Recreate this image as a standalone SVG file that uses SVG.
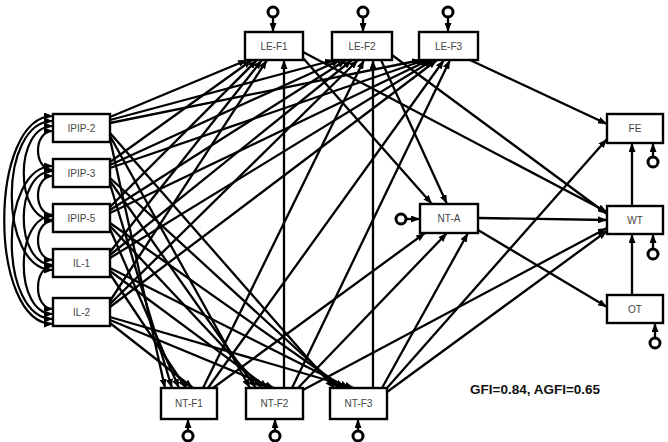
<svg xmlns="http://www.w3.org/2000/svg" width="668" height="442" viewBox="0 0 668 442">
<style>
.box{fill:#fff;stroke:#000;stroke-width:2.4}
.lbl{font-family:"Liberation Sans",Arial,sans-serif;font-size:10px;fill:#444;text-anchor:middle}
.e{stroke:#000;stroke-width:2.3;fill:none;marker-end:url(#ah)}
.cov{stroke:#000;stroke-width:2.2;fill:none;marker-start:url(#ah);marker-end:url(#ah)}
.err{fill:#fff;stroke:#000;stroke-width:3}
.fit{font-family:"Liberation Sans",Arial,sans-serif;font-size:13.5px;font-weight:bold;fill:#111}
</style>
<defs>
<marker id="ah" markerUnits="userSpaceOnUse" markerWidth="9" markerHeight="7" refX="9" refY="3.5" orient="auto-start-reverse">
<path d="M0,0 L9,3.5 L0,7 z" fill="#000"/>
</marker>
</defs>
<rect width="668" height="442" fill="#fff"/>
<g id="connectors">
<path class="cov" d="M53,131 C33,131 33,170 53,170"/>
<path class="cov" d="M53,176 C33,176 33,215 53,215"/>
<path class="cov" d="M53,221 C33,221 33,260 53,260"/>
<path class="cov" d="M53,266 C33,266 33,309 53,309"/>
<path class="cov" d="M53,126 C14,126 14,220 53,220"/>
<path class="cov" d="M53,171 C14,171 14,265 53,265"/>
<path class="cov" d="M53,216 C14,216 14,314 53,314"/>
<path class="cov" d="M53,121 C-2,121 -2,270 53,270"/>
<path class="cov" d="M53,166 C-2,166 -2,319 53,319"/>
<path class="cov" d="M53,116 C-12,116 -12,324 53,324"/>
<path class="e" d="M110,117 L247,60"/>
<path class="e" d="M110,120 L334,60"/>
<path class="e" d="M110,123 L421,60"/>
<path class="e" d="M110,133 L334,388"/>
<path class="e" d="M110,136 L250,388"/>
<path class="e" d="M110,139 L165,388"/>
<path class="e" d="M110,162 L252,60"/>
<path class="e" d="M110,165 L340,60"/>
<path class="e" d="M110,168 L425,60"/>
<path class="e" d="M110,178 L339,388"/>
<path class="e" d="M110,181 L256,388"/>
<path class="e" d="M110,184 L172,388"/>
<path class="e" d="M110,207 L257,60"/>
<path class="e" d="M110,210 L346,60"/>
<path class="e" d="M110,213 L429,60"/>
<path class="e" d="M110,223 L344,388"/>
<path class="e" d="M110,226 L262,388"/>
<path class="e" d="M110,229 L179,388"/>
<path class="e" d="M110,252 L262,60"/>
<path class="e" d="M110,255 L352,60"/>
<path class="e" d="M110,258 L433,60"/>
<path class="e" d="M110,268 L349,388"/>
<path class="e" d="M110,271 L268,388"/>
<path class="e" d="M110,274 L186,388"/>
<path class="e" d="M110,301 L267,60"/>
<path class="e" d="M110,304 L358,60"/>
<path class="e" d="M110,307 L437,60"/>
<path class="e" d="M110,317 L354,388"/>
<path class="e" d="M110,320 L274,388"/>
<path class="e" d="M110,323 L193,388"/>
<path class="e" d="M284,388 L284,60"/>
<path class="e" d="M373,388 L373,60"/>
<path class="e" d="M203,388 L364,60"/>
<path class="e" d="M208,388 L444,60"/>
<path class="e" d="M292,388 L450,60"/>
<path class="e" d="M213,388 L425,233"/>
<path class="e" d="M298,388 L447,233"/>
<path class="e" d="M382,388 L468,233"/>
<path class="e" d="M303,390 L607,228"/>
<path class="e" d="M387,392 L607,231"/>
<path class="e" d="M387,388 L607,139"/>
<path class="e" d="M303,58 L432,204"/>
<path class="e" d="M381,60 L447,204"/>
<path class="e" d="M303,52 L607,212"/>
<path class="e" d="M392,55 L607,214"/>
<path class="e" d="M470,60 L607,124"/>
<path class="e" d="M478,218 L607,220"/>
<path class="e" d="M478,230 L607,307"/>
<path class="e" d="M632,206 L632,143"/>
<path class="e" d="M632,295 L632,234"/>
<path class="e" d="M273,18 L273,32"/>
<path class="e" d="M363,18 L363,32"/>
<path class="e" d="M448,18 L448,32"/>
<path class="e" d="M407,219 L420,219"/>
<path class="e" d="M653,156 L653,143"/>
<path class="e" d="M653,248 L653,234"/>
<path class="e" d="M655,337 L655,323"/>
<path class="e" d="M188,431 L188,419"/>
<path class="e" d="M275,431 L275,419"/>
<path class="e" d="M358,431 L358,419"/>
</g>
<g id="err-terms">
<circle class="err" cx="273" cy="12" r="5"/>
<circle class="err" cx="363" cy="12" r="5"/>
<circle class="err" cx="448" cy="12" r="5"/>
<circle class="err" cx="401" cy="219" r="5"/>
<circle class="err" cx="653" cy="162" r="5"/>
<circle class="err" cx="653" cy="254" r="5"/>
<circle class="err" cx="655" cy="343" r="5"/>
<circle class="err" cx="188" cy="436" r="5"/>
<circle class="err" cx="275" cy="436" r="5"/>
<circle class="err" cx="358" cy="436" r="5"/>
</g>
<g id="IPIP-2"><rect class="box" x="53" y="114" width="57" height="28"/><text class="lbl" x="81.5" y="131.5">IPIP-2</text></g>
<g id="IPIP-3"><rect class="box" x="53" y="159" width="57" height="28"/><text class="lbl" x="81.5" y="176.5">IPIP-3</text></g>
<g id="IPIP-5"><rect class="box" x="53" y="204" width="57" height="28"/><text class="lbl" x="81.5" y="221.5">IPIP-5</text></g>
<g id="IL-1"><rect class="box" x="53" y="249" width="57" height="28"/><text class="lbl" x="81.5" y="266.5">IL-1</text></g>
<g id="IL-2"><rect class="box" x="53" y="298" width="57" height="28"/><text class="lbl" x="81.5" y="315.5">IL-2</text></g>
<g id="LE-F1"><rect class="box" x="245" y="32" width="58" height="28"/><text class="lbl" x="274" y="49.5">LE-F1</text></g>
<g id="LE-F2"><rect class="box" x="332" y="32" width="60" height="28"/><text class="lbl" x="362" y="49.5">LE-F2</text></g>
<g id="LE-F3"><rect class="box" x="419" y="32" width="59" height="28"/><text class="lbl" x="448.5" y="49.5">LE-F3</text></g>
<g id="NT-F1"><rect class="box" x="161" y="388" width="56" height="31"/><text class="lbl" x="189" y="407">NT-F1</text></g>
<g id="NT-F2"><rect class="box" x="246" y="388" width="57" height="31"/><text class="lbl" x="274.5" y="407">NT-F2</text></g>
<g id="NT-F3"><rect class="box" x="330" y="388" width="57" height="31"/><text class="lbl" x="358.5" y="407">NT-F3</text></g>
<g id="NT-A"><rect class="box" x="420" y="204" width="58" height="29"/><text class="lbl" x="449" y="222">NT-A</text></g>
<g id="FE"><rect class="box" x="607" y="114" width="56" height="29"/><text class="lbl" x="635" y="132">FE</text></g>
<g id="WT"><rect class="box" x="607" y="206" width="56" height="28"/><text class="lbl" x="635" y="223.5">WT</text></g>
<g id="OT"><rect class="box" x="607" y="295" width="56" height="28"/><text class="lbl" x="635" y="312.5">OT</text></g>
<text class="fit" x="470" y="394">GFI=0.84, AGFI=0.65</text>
</svg>
